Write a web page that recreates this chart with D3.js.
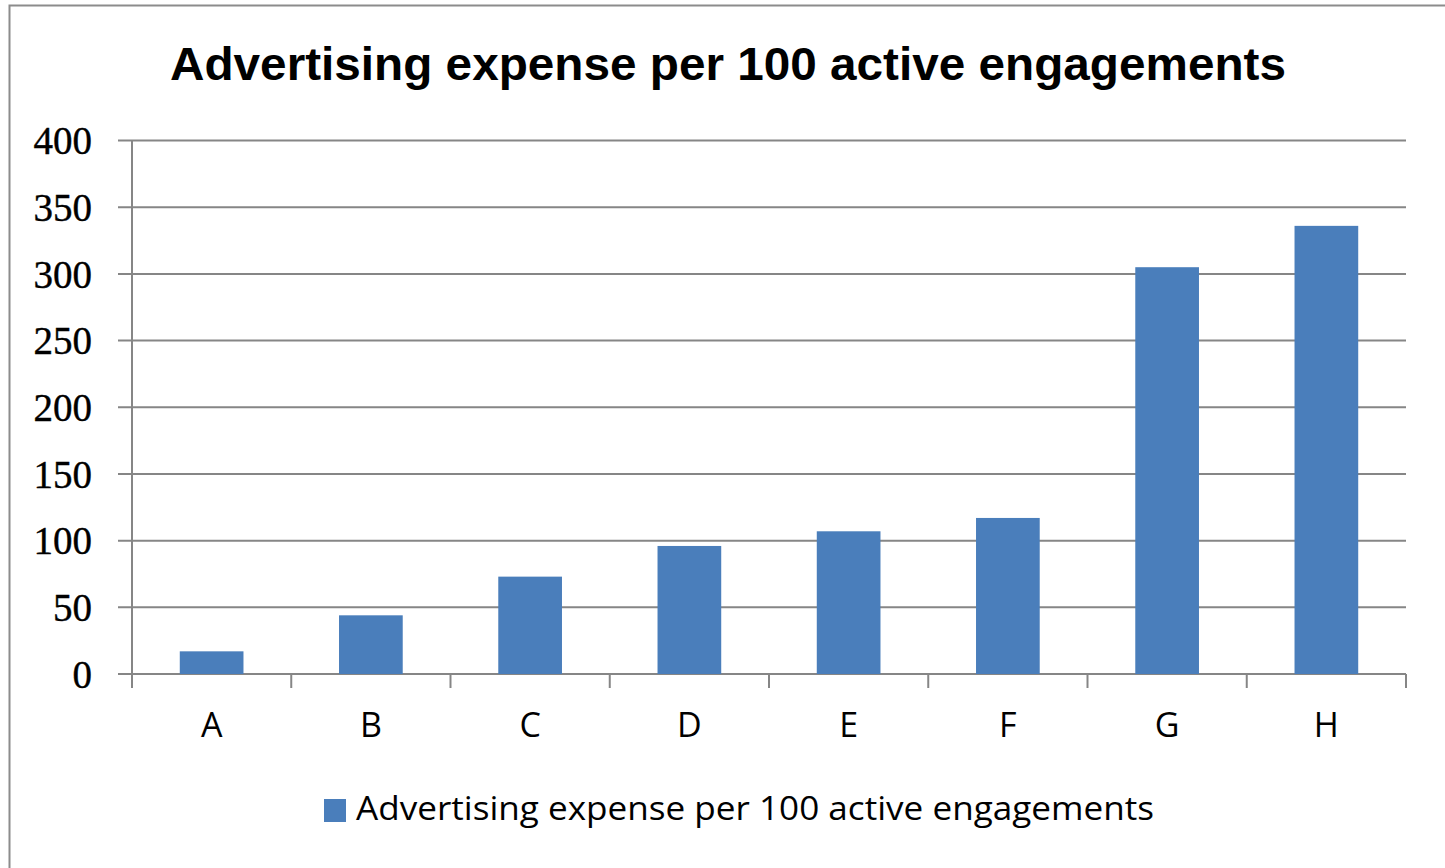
<!DOCTYPE html>
<html>
<head>
<meta charset="utf-8">
<script src="https://cdn.jsdelivr.net/npm/d3@7"></script>
<style>
  html, body { margin: 0; padding: 0; background: #fff; }
  svg { display: block; }
</style>
</head>
<body>
<svg id="chart" width="1445" height="868"></svg>
<script>
// Chart content
const chartTitle = "Advertising expense per 100 active engagements";
const seriesName = "Advertising expense per 100 active engagements";
const categories = ["A", "B", "C", "D", "E", "F", "G", "H"];
const values = [17, 44, 73, 96, 107, 117, 305, 336];
const yTicks = [0, 50, 100, 150, 200, 250, 300, 350, 400];

const W = 1445, H = 868;
const margin = { left: 132, right: 39, top: 140.5, bottom: 194 };
const barColor = "#4a7ebb";
const gridColor = "#868686";

const svg = d3.select("#chart");

// Chart frame
svg.append("rect")
  .attr("x", 9.5).attr("y", 5.5)
  .attr("width", W + 20).attr("height", H + 20)
  .attr("fill", "#fff")
  .attr("stroke", "#8c8c8c")
  .attr("stroke-width", 2);

const x = d3.scaleBand()
  .domain(categories)
  .range([margin.left, W - margin.right])
  .paddingInner(0.6)
  .paddingOuter(0.3);

const y = d3.scaleLinear()
  .domain([0, 400])
  .range([H - margin.bottom, margin.top]);

const plotLeft = margin.left, plotRight = W - margin.right;

// Horizontal gridlines (with tick stubs left of the axis)
svg.append("g")
  .selectAll("line")
  .data(yTicks)
  .join("line")
  .attr("x1", plotLeft - 14)
  .attr("x2", plotRight)
  .attr("y1", d => y(d))
  .attr("y2", d => y(d))
  .attr("stroke", gridColor)
  .attr("stroke-width", 2);

// Bars
svg.append("g")
  .selectAll("rect")
  .data(values)
  .join("rect")
  .attr("x", (d, i) => x(categories[i]))
  .attr("width", x.bandwidth())
  .attr("y", d => y(d))
  .attr("height", d => y(0) - y(d))
  .attr("fill", barColor);

// Vertical axis line
svg.append("line")
  .attr("x1", plotLeft).attr("x2", plotLeft)
  .attr("y1", y(400)).attr("y2", y(0) + 14)
  .attr("stroke", gridColor).attr("stroke-width", 2);

// Category separator ticks on the baseline
const boundaries = d3.range(categories.length + 1).map(i => plotLeft + i * (plotRight - plotLeft) / categories.length);
svg.append("g")
  .selectAll("line")
  .data(boundaries.slice(1))
  .join("line")
  .attr("x1", d => d).attr("x2", d => d)
  .attr("y1", y(0)).attr("y2", y(0) + 14)
  .attr("stroke", gridColor).attr("stroke-width", 2);

// Y tick labels
svg.append("g")
  .selectAll("text")
  .data(yTicks)
  .join("text")
  .attr("x", 92)
  .attr("y", d => y(d))
  .attr("dy", "0.35em")
  .attr("text-anchor", "end")
  .attr("font-family", "Liberation Serif, DejaVu Serif, serif")
  .attr("font-size", 39)
  .attr("stroke", "#000")
  .attr("stroke-width", 0.4)
  .attr("fill", "#000")
  .text(d => d);

// Category labels
svg.append("g")
  .selectAll("text")
  .data(categories)
  .join("text")
  .attr("x", d => x(d) + x.bandwidth() / 2)
  .attr("y", 737)
  .attr("text-anchor", "middle")
  .attr("font-family", "Open Sans, sans-serif")
  .attr("font-size", 34)
  .attr("fill", "#000")
  .text(d => d);

// Title
svg.append("text")
  .attr("x", 728)
  .attr("y", 80)
  .attr("text-anchor", "middle")
  .attr("font-family", "Liberation Sans, Arial, sans-serif")
  .attr("font-weight", "bold")
  .attr("font-size", 47)
  .attr("textLength", 1116)
  .attr("lengthAdjust", "spacingAndGlyphs")
  .attr("fill", "#000")
  .text(chartTitle);

// Legend
svg.append("rect")
  .attr("x", 324).attr("y", 799)
  .attr("width", 22).attr("height", 23)
  .attr("fill", barColor);

svg.append("text")
  .attr("x", 356)
  .attr("y", 820)
  .attr("font-family", "Open Sans, sans-serif")
  .attr("font-size", 33)
  .attr("textLength", 798)
  .attr("lengthAdjust", "spacingAndGlyphs")
  .attr("fill", "#000")
  .text(seriesName);
</script>
</body>
</html>
